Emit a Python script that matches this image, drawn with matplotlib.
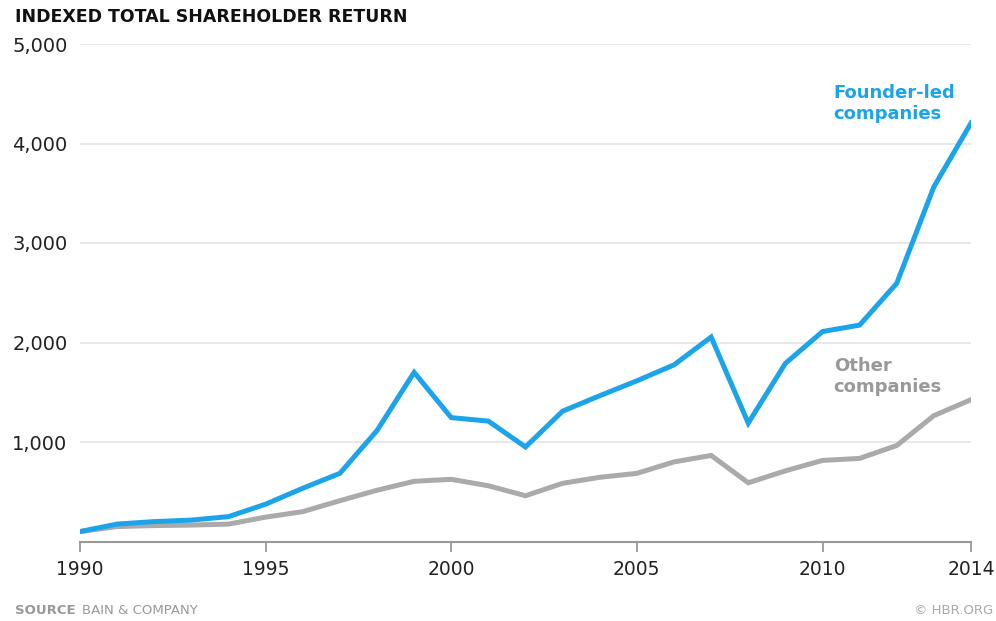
import numpy as np
import matplotlib.pyplot as plt

years = list(range(1990, 2015))
founder_led = [100, 175, 200, 215, 250, 375, 535, 685, 1115, 1700, 1245, 1210,
               950, 1310, 1465, 1615, 1775, 2055, 1190, 1790, 2110, 2175, 2595,
               3565, 4205]
other = [100, 150, 160, 165, 175, 245, 300, 410, 515, 605, 625, 560,
         460, 585, 645, 685, 800, 865, 590, 710, 815, 835, 965, 1265, 1425]
y_ticks = [1000, 2000, 3000, 4000, 5000]
x_ticks = [1990, 1995, 2000, 2005, 2010, 2014]

blue = '#1ca4ea'
grey = '#aaaaaa'
text_col = '#222222'

plt.rcParams['font.family'] = ['DejaVu Sans']

fig = plt.figure(figsize=(9.96, 6.21), dpi=100)
ax = fig.add_axes([80 / 996, 1 - 541.5 / 621, 891 / 996, (541.5 - 44) / 621])

for v in y_ticks:
    ax.axhline(v, color='#e4e4e4', lw=1.2, zorder=1)

ax.plot(years, other, color=grey, lw=3.6, solid_joinstyle='miter', zorder=3)
ax.plot(years, founder_led, color=blue, lw=3.6, solid_joinstyle='miter', zorder=4)

ax.set_xlim(1990, 2014)
ax.set_ylim(0, 5000)
ax.set_xticks(x_ticks)
ax.set_xticklabels([str(x) for x in x_ticks])
ax.set_yticks(y_ticks)
ax.set_yticklabels(['{:,}'.format(v) for v in y_ticks])

for s in ['top', 'right', 'left']:
    ax.spines[s].set_visible(False)
ax.spines['bottom'].set_color('#999999')
ax.spines['bottom'].set_linewidth(1.5)
ax.tick_params(axis='x', length=7, width=1.3, color='#999999', pad=6,
               labelsize=13.5, labelcolor=text_col)
ax.tick_params(axis='y', length=0, pad=9, labelsize=14, labelcolor=text_col)
ax.patch.set_visible(False)

ax.text(2010.3, 4400, 'Founder-led\ncompanies', color=blue, fontsize=13,
        fontweight='bold', ha='left', va='center', linespacing=1.2)
ax.text(2010.3, 1660, 'Other\ncompanies', color='#999999', fontsize=13,
        fontweight='bold', ha='left', va='center', linespacing=1.2)

fig.text(15 / 996, 1 - 17 / 621, 'INDEXED TOTAL SHAREHOLDER RETURN',
         fontsize=12.5, fontweight='bold', color='#111111', ha='left', va='center')
fig.text(15 / 996, 1 - 611 / 621, 'SOURCE', fontsize=9.5, fontweight='bold',
         color='#999999', ha='left', va='center')
fig.text(82 / 996, 1 - 611 / 621, 'BAIN & COMPANY', fontsize=9.5,
         color='#999999', ha='left', va='center')
fig.text(993 / 996, 1 - 611 / 621, '© HBR.ORG', fontsize=9.5,
         color='#aaaaaa', ha='right', va='center')

fig.savefig('out.png', dpi=100, facecolor='white')
